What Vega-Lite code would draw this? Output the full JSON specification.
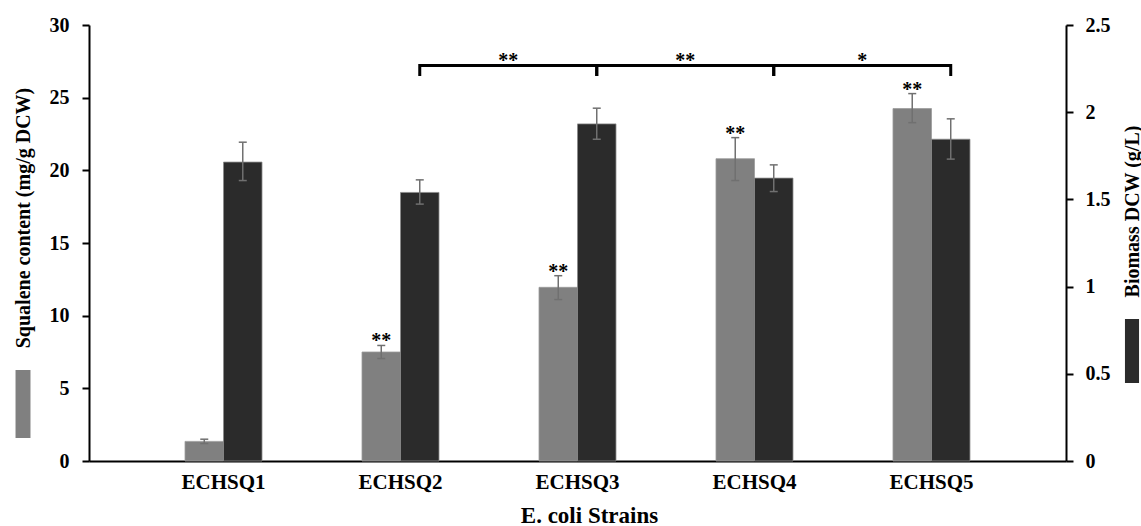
{
  "$schema": "https://vega.github.io/schema/vega-lite/v6.json",
  "width": 977,
  "height": 436,
  "autosize": {"type": "none"},
  "padding": {"left": 89, "top": 25, "right": 75, "bottom": 65},
  "background": "white",
  "config": {
    "view": {"stroke": null},
    "font": "Liberation Serif",
    "axis": {
      "grid": false,
      "domainColor": "black",
      "domainWidth": 2,
      "tickColor": "black",
      "tickWidth": 2,
      "labelFont": "Liberation Serif",
      "labelFontWeight": "bold",
      "labelFontSize": 20,
      "labelColor": "black",
      "titleFont": "Liberation Serif",
      "titleFontWeight": "bold",
      "titleFontSize": 20,
      "titleColor": "black"
    }
  },
  "datasets": {
    "squalene": [
      {"strain": "ECHSQ1", "series": "Squalene", "value": 1.35, "lo": 1.2, "hi": 1.5, "sig": ""},
      {"strain": "ECHSQ2", "series": "Squalene", "value": 7.5, "lo": 7.05, "hi": 7.95, "sig": "**"},
      {"strain": "ECHSQ3", "series": "Squalene", "value": 11.95, "lo": 11.11, "hi": 12.75, "sig": "**"},
      {"strain": "ECHSQ4", "series": "Squalene", "value": 20.8, "lo": 19.3, "hi": 22.25, "sig": "**"},
      {"strain": "ECHSQ5", "series": "Squalene", "value": 24.25, "lo": 23.28, "hi": 25.28, "sig": "**"}
    ],
    "biomass": [
      {"strain": "ECHSQ1", "series": "Biomass", "value": 1.714, "lo": 1.608, "hi": 1.828},
      {"strain": "ECHSQ2", "series": "Biomass", "value": 1.54, "lo": 1.473, "hi": 1.612},
      {"strain": "ECHSQ3", "series": "Biomass", "value": 1.933, "lo": 1.845, "hi": 2.023},
      {"strain": "ECHSQ4", "series": "Biomass", "value": 1.622, "lo": 1.545, "hi": 1.698},
      {"strain": "ECHSQ5", "series": "Biomass", "value": 1.845, "lo": 1.731, "hi": 1.962}
    ],
    "brackets": [
      {"id": "b1", "ord": 1, "strain": "ECHSQ2", "level": 2.208},
      {"id": "b1", "ord": 2, "strain": "ECHSQ2", "level": 2.268},
      {"id": "b1", "ord": 3, "strain": "ECHSQ3", "level": 2.268},
      {"id": "b1", "ord": 4, "strain": "ECHSQ3", "level": 2.208},
      {"id": "b2", "ord": 1, "strain": "ECHSQ3", "level": 2.208},
      {"id": "b2", "ord": 2, "strain": "ECHSQ3", "level": 2.268},
      {"id": "b2", "ord": 3, "strain": "ECHSQ4", "level": 2.268},
      {"id": "b2", "ord": 4, "strain": "ECHSQ4", "level": 2.208},
      {"id": "b3", "ord": 1, "strain": "ECHSQ4", "level": 2.208},
      {"id": "b3", "ord": 2, "strain": "ECHSQ4", "level": 2.268},
      {"id": "b3", "ord": 3, "strain": "ECHSQ5", "level": 2.268},
      {"id": "b3", "ord": 4, "strain": "ECHSQ5", "level": 2.208}
    ],
    "bracketLabels": [
      {"strain": "ECHSQ2", "level": 2.268, "label": "**"},
      {"strain": "ECHSQ3", "level": 2.268, "label": "**"},
      {"strain": "ECHSQ4", "level": 2.268, "label": "*"}
    ]
  },
  "layer": [
    {
      "data": {"name": "squalene"},
      "encoding": {
        "x": {
          "field": "strain", "type": "nominal",
          "scale": {"paddingInner": 0.565, "paddingOuter": 0.5425},
          "axis": {
            "title": "E. coli Strains", "ticks": false, "labelAngle": 0, "labelPadding": 27,
            "labelBaseline": "alphabetic", "labelFontSize": 21,
            "titleX": 500, "titleY": 61, "titleBaseline": "alphabetic", "titleAlign": "center",
            "titleFontSize": 23, "titleFontWeight": "bold", "titleFont": "Liberation Serif"
          }
        },
        "y": {
          "field": "value", "type": "quantitative",
          "scale": {"domain": [0, 30], "nice": false},
          "axis": {
            "orient": "left", "values": [0, 5, 10, 15, 20, 25, 30], "tickSize": 7, "labelPadding": 13,
            "title": "Squalene content (mg/g DCW)", "titleAngle": 270, "titleX": -59.5, "titleY": 192.5,
            "titleBaseline": "alphabetic", "titleAlign": "center"
          }
        }
      },
      "layer": [
        {
          "mark": {"type": "bar", "stroke": "#9a9a9a", "strokeWidth": 0.8},
          "encoding": {
            "xOffset": {"field": "series", "type": "nominal", "scale": {"domain": ["Squalene", "Biomass"], "paddingInner": 0, "paddingOuter": 0}},
            "fill": {
              "field": "series", "type": "nominal", "scale": {"range": ["#808080"]},
              "legend": {
                "orient": "none", "legendX": -100, "legendY": 345, "title": null, "labelExpr": "''",
                "symbolType": "M-0.22,-1H0.22V1H-0.22Z", "symbolSize": 4624, "symbolStrokeWidth": 0,
                "symbolOpacity": 1, "padding": 0, "labelFontSize": 1, "labelOffset": 0
              }
            }
          }
        },
        {
          "mark": {"type": "rule", "color": "#707070", "strokeWidth": 1.5},
          "encoding": {
            "x": {"field": "strain", "type": "nominal", "bandPosition": 0.25},
            "y": {"field": "lo", "type": "quantitative"},
            "y2": {"field": "hi"}
          }
        },
        {
          "mark": {"type": "point", "shape": "stroke", "filled": false, "color": "#707070", "size": 64, "strokeWidth": 1.5, "opacity": 1},
          "encoding": {
            "x": {"field": "strain", "type": "nominal", "bandPosition": 0.25},
            "y": {"field": "hi", "type": "quantitative"}
          }
        },
        {
          "mark": {"type": "point", "shape": "stroke", "filled": false, "color": "#707070", "size": 64, "strokeWidth": 1.5, "opacity": 1},
          "encoding": {
            "x": {"field": "strain", "type": "nominal", "bandPosition": 0.25},
            "y": {"field": "lo", "type": "quantitative"}
          }
        },
        {
          "mark": {"type": "text", "font": "Liberation Serif", "fontWeight": "bold", "fontSize": 20, "baseline": "alphabetic", "align": "center", "dy": 2, "color": "black"},
          "encoding": {
            "x": {"field": "strain", "type": "nominal", "bandPosition": 0.25},
            "y": {"field": "hi", "type": "quantitative"},
            "text": {"field": "sig"}
          }
        }
      ]
    },
    {
      "encoding": {
        "x": {"field": "strain", "type": "nominal"},
        "y": {
          "field": "value", "type": "quantitative",
          "scale": {"domain": [0, 2.5], "nice": false},
          "axis": {
            "orient": "right", "values": [0, 0.5, 1, 1.5, 2, 2.5], "format": "~g", "tickSize": 7, "labelPadding": 12,
            "title": "Biomass DCW (g/L)", "titleAngle": 270, "titleX": 72, "titleY": 186,
            "titleBaseline": "alphabetic", "titleAlign": "center"
          }
        }
      },
      "layer": [
        {
          "data": {"name": "biomass"},
          "mark": {"type": "bar", "stroke": "#8a8a8a", "strokeWidth": 0.8},
          "encoding": {
            "xOffset": {"field": "series", "type": "nominal", "scale": {"domain": ["Squalene", "Biomass"], "paddingInner": 0, "paddingOuter": 0}},
            "fill": {
              "field": "series", "type": "nominal", "scale": {"range": ["#2b2b2b"]},
              "legend": {
                "orient": "none", "legendX": 1011, "legendY": 294, "title": null, "labelExpr": "''",
                "symbolType": "M-0.22,-1H0.22V1H-0.22Z", "symbolSize": 4096, "symbolStrokeWidth": 0,
                "symbolOpacity": 1, "padding": 0, "labelFontSize": 1, "labelOffset": 0
              }
            }
          }
        },
        {
          "data": {"name": "biomass"},
          "mark": {"type": "rule", "color": "#707070", "strokeWidth": 1.5},
          "encoding": {
            "x": {"field": "strain", "type": "nominal", "bandPosition": 0.75},
            "y": {"field": "lo", "type": "quantitative"},
            "y2": {"field": "hi"}
          }
        },
        {
          "data": {"name": "biomass"},
          "mark": {"type": "point", "shape": "stroke", "filled": false, "color": "#707070", "size": 64, "strokeWidth": 1.5, "opacity": 1},
          "encoding": {
            "x": {"field": "strain", "type": "nominal", "bandPosition": 0.75},
            "y": {"field": "hi", "type": "quantitative"}
          }
        },
        {
          "data": {"name": "biomass"},
          "mark": {"type": "point", "shape": "stroke", "filled": false, "color": "#707070", "size": 64, "strokeWidth": 1.5, "opacity": 1},
          "encoding": {
            "x": {"field": "strain", "type": "nominal", "bandPosition": 0.75},
            "y": {"field": "lo", "type": "quantitative"}
          }
        },
        {
          "data": {"name": "brackets"},
          "mark": {"type": "line", "color": "black", "strokeWidth": 3, "strokeCap": "butt", "strokeJoin": "miter"},
          "encoding": {
            "x": {"field": "strain", "type": "nominal", "bandPosition": 0.75},
            "y": {"field": "level", "type": "quantitative"},
            "detail": {"field": "id"},
            "order": {"field": "ord", "type": "quantitative"}
          }
        },
        {
          "data": {"name": "bracketLabels"},
          "mark": {"type": "text", "font": "Liberation Serif", "fontWeight": "bold", "fontSize": 20, "baseline": "alphabetic", "align": "center", "dy": 2, "color": "black"},
          "encoding": {
            "x": {"field": "strain", "type": "nominal", "bandPosition": 1.899},
            "y": {"field": "level", "type": "quantitative"},
            "text": {"field": "label"}
          }
        }
      ]
    }
  ],
  "resolve": {"scale": {"y": "independent", "fill": "independent"}}
}
